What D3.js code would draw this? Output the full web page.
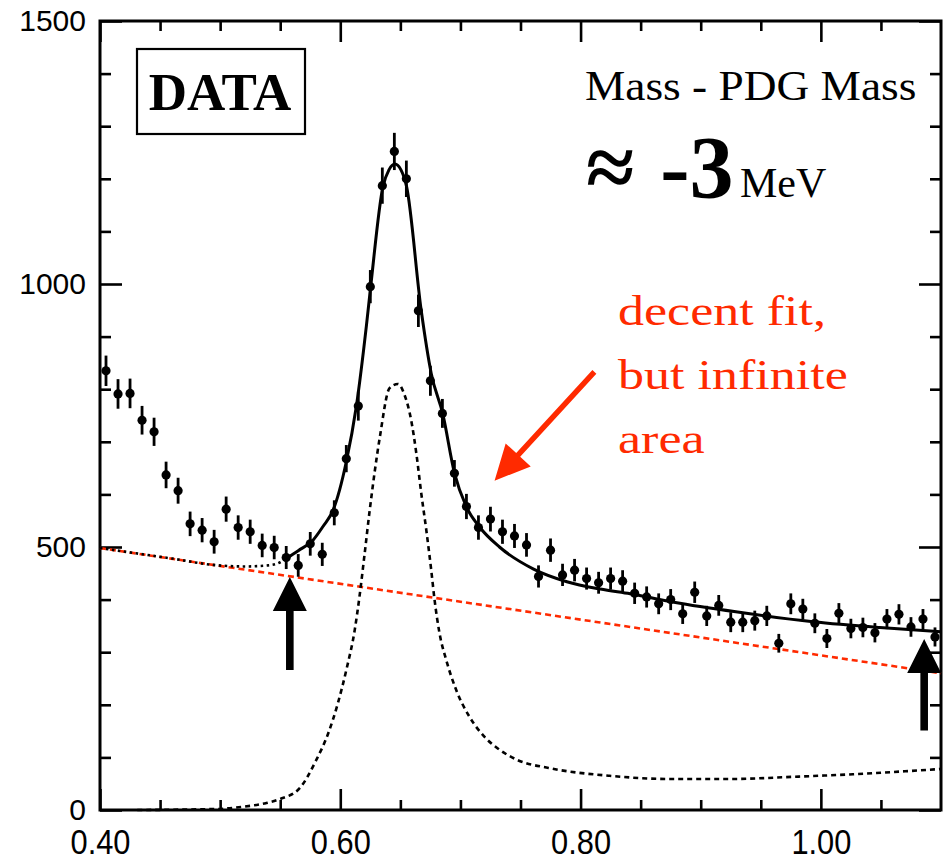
<!DOCTYPE html>
<html>
<head>
<meta charset="utf-8">
<script src="https://cdn.jsdelivr.net/npm/d3@7"></script>
<style>
  body { margin: 0; background: #ffffff; }
</style>
</head>
<body>
<div id="chart"></div>
<script>
// Bin centres of the mass histogram (GeV)
var binCenters = [
  0.405, 0.415, 0.425, 0.435, 0.445, 0.455, 0.465, 0.475, 0.485, 0.495,
  0.505, 0.515, 0.525, 0.535, 0.545, 0.555, 0.565, 0.575, 0.585, 0.595,
  0.605, 0.615, 0.625, 0.635, 0.645, 0.655, 0.665, 0.675, 0.685, 0.695,
  0.705, 0.715, 0.725, 0.735, 0.745, 0.755, 0.765, 0.775, 0.785, 0.795,
  0.805, 0.815, 0.825, 0.835, 0.845, 0.855, 0.865, 0.875, 0.885, 0.895,
  0.905, 0.915, 0.925, 0.935, 0.945, 0.955, 0.965, 0.975, 0.985, 0.995,
  1.005, 1.015, 1.025, 1.035, 1.045, 1.055, 1.065, 1.075, 1.085, 1.095
];

// Entries per bin
var counts = [
  835, 791, 792, 741, 719, 637, 607, 544, 532, 510,
  572, 537, 529, 503, 499, 480, 465, 506, 486, 565,
  668, 768, 995, 1187, 1252, 1200, 949, 816, 754, 640,
  577, 537, 553, 529, 521, 504, 444, 494, 447, 456,
  440, 432, 440, 435, 412, 405, 392, 400, 373, 414,
  369, 389, 357, 357, 360, 369, 317, 392, 382, 355,
  326, 374, 345, 347, 337, 363, 372, 348, 363, 329
];

// Total fit inside the fit range (solid)
var fitX = [0.555, 0.565, 0.5773, 0.5856, 0.594, 0.605, 0.6134, 0.6217, 0.6253, 0.6355,
  0.6405, 0.6455, 0.6505, 0.6552, 0.6674, 0.6757, 0.6854, 0.6951, 0.7048, 0.7159,
  0.7325, 0.7609, 0.7886, 0.8164, 0.8413, 0.8827, 0.938, 0.9936, 1.049, 1.10];
var fitY = [478, 493, 513, 539, 570, 662, 768, 920, 995, 1185,
  1217, 1228, 1217, 1185, 949, 830, 752, 640, 577, 538,
  500, 458, 434, 420, 411, 393, 374, 358, 347, 339];

// Total fit below the fit range (dotted)
var fitLowX = [0.400, 0.430, 0.460, 0.494, 0.520, 0.540, 0.550, 0.555];
var fitLowY = [498, 488, 478, 466, 463, 465, 471, 478];

// Signal shape (black dashed)
var signalX = [0.431, 0.498, 0.518, 0.538, 0.550, 0.566, 0.580, 0.590, 0.598, 0.605,
  0.612, 0.616, 0.620, 0.6245, 0.633, 0.641, 0.648, 0.6535, 0.659, 0.6633,
  0.6674, 0.6716, 0.6757, 0.6785, 0.6826, 0.6882, 0.6965, 0.7076, 0.7201, 0.7311,
  0.7475, 0.7733, 0.824, 0.8747, 0.9254, 0.9761, 1.0268, 1.10];
var signalY = [0, 2, 6, 13, 21, 41, 95, 146, 203, 266,
  342, 406, 482, 570, 710, 802, 810, 789, 741, 678,
  602, 532, 456, 399, 336, 285, 228, 177, 139, 117,
  95, 80, 65, 59, 59, 63, 68, 78];

// Linear background (red dashed)
var bgX = [0.40, 1.10];
var bgY = [498, 260];

// Fit range markers: x, arrow tip and tail (counts)
var rangeX = [0.558, 1.086];
var rangeTip = [443, 325];
var rangeTail = [266, 151];

// Ticks
var xMajor = [0.40, 0.60, 0.80, 1.00];
var xLabels = ["0.40", "0.60", "0.80", "1.00"];
var xMinor = [0.45, 0.50, 0.55, 0.65, 0.70, 0.75, 0.85, 0.90, 0.95, 1.05];
var yMajor = [0, 500, 1000, 1500];
var yLabels = ["0", "500", "1000", "1500"];
var yMinor = [100, 200, 300, 400, 600, 700, 800, 900, 1100, 1200, 1300, 1400];

var width = 950;
var height = 860;
var plotLeft = 100, plotRight = 941, plotTop = 21, plotBottom = 810;
var red = "#ff2a00";
var serif = "'Liberation Serif', 'Times New Roman', serif";
var sans = "'Liberation Sans', Arial, Helvetica, sans-serif";

var svg = d3.select("#chart")
  .append("svg")
  .attr("width", width)
  .attr("height", height);

var x = d3.scaleLinear().domain([0.40, 1.10]).range([plotLeft, plotRight]);
var y = d3.scaleLinear().domain([0, 1500]).range([plotBottom, plotTop]);

// Axes: ticks drawn inward on all four sides
function styleAxis(g) {
  g.select(".domain").remove();
  g.selectAll("line").attr("stroke", "#000").attr("stroke-width", 2.6);
  g.selectAll("text").attr("fill", "#000");
  g.attr("font-family", sans).attr("font-size", 30);
}

var xAxisG = svg.append("g")
  .attr("transform", "translate(0," + plotBottom + ")")
  .call(d3.axisBottom(x).tickValues(xMajor).tickSize(-21)
    .tickFormat(function (d, i) { return xLabels[i]; }))
  .call(styleAxis);
// the x labels are tall and narrow in the original
xAxisG.selectAll("text")
  .attr("y", 0)
  .attr("dy", 0)
  .attr("font-size", 35)
  .attr("transform", "translate(0,44) scale(0.88,1)");

svg.append("g")
  .attr("transform", "translate(0," + plotBottom + ")")
  .call(d3.axisBottom(x).tickValues(xMinor).tickSize(-10).tickFormat(""))
  .call(styleAxis);
svg.append("g")
  .attr("transform", "translate(0," + plotTop + ")")
  .call(d3.axisTop(x).tickValues(xMajor).tickSize(-21).tickFormat(""))
  .call(styleAxis);
svg.append("g")
  .attr("transform", "translate(0," + plotTop + ")")
  .call(d3.axisTop(x).tickValues(xMinor).tickSize(-10).tickFormat(""))
  .call(styleAxis);

svg.append("g")
  .attr("transform", "translate(" + plotLeft + ",0)")
  .call(d3.axisLeft(y).tickValues(yMajor).tickSize(-22).tickPadding(14)
    .tickFormat(function (d, i) { return yLabels[i]; }))
  .call(styleAxis);
svg.append("g")
  .attr("transform", "translate(" + plotLeft + ",0)")
  .call(d3.axisLeft(y).tickValues(yMinor).tickSize(-11).tickFormat(""))
  .call(styleAxis);
svg.append("g")
  .attr("transform", "translate(" + plotRight + ",0)")
  .call(d3.axisRight(y).tickValues(yMajor).tickSize(-22).tickFormat(""))
  .call(styleAxis);
svg.append("g")
  .attr("transform", "translate(" + plotRight + ",0)")
  .call(d3.axisRight(y).tickValues(yMinor).tickSize(-11).tickFormat(""))
  .call(styleAxis);

// Frame
svg.append("rect")
  .attr("x", plotLeft)
  .attr("y", plotTop)
  .attr("width", plotRight - plotLeft)
  .attr("height", plotBottom - plotTop)
  .attr("fill", "none")
  .attr("stroke", "#000")
  .attr("stroke-width", 3);

function zip(xs, ys) {
  return xs.map(function (v, i) { return [v, ys[i]]; });
}

var line = d3.line()
  .x(function (d) { return x(d[0]); })
  .y(function (d) { return y(d[1]); })
  .curve(d3.curveMonotoneX);

// Background (red dashed)
svg.append("path")
  .attr("d", line(zip(bgX, bgY)))
  .attr("fill", "none")
  .attr("stroke", red)
  .attr("stroke-width", 2.6)
  .attr("stroke-dasharray", "6,4");

// Signal (black dashed)
svg.append("path")
  .attr("d", line(zip(signalX, signalY)))
  .attr("fill", "none")
  .attr("stroke", "#000")
  .attr("stroke-width", 2.6)
  .attr("stroke-dasharray", "5,4");

// Total fit outside fit range (dotted)
svg.append("path")
  .attr("d", line(zip(fitLowX, fitLowY)))
  .attr("fill", "none")
  .attr("stroke", "#000")
  .attr("stroke-width", 2.6)
  .attr("stroke-dasharray", "2.5,3.5");

// Total fit (solid)
svg.append("path")
  .attr("d", line(zip(fitX, fitY)))
  .attr("fill", "none")
  .attr("stroke", "#000")
  .attr("stroke-width", 3);

// Data points with Poisson error bars
var points = svg.append("g");
points.selectAll("line")
  .data(binCenters)
  .enter()
  .append("line")
  .attr("x1", function (d) { return x(d); })
  .attr("x2", function (d) { return x(d); })
  .attr("y1", function (d, i) { return y(counts[i] + Math.sqrt(counts[i])); })
  .attr("y2", function (d, i) { return y(counts[i] - Math.sqrt(counts[i])); })
  .attr("stroke", "#000")
  .attr("stroke-width", 2.8);
points.selectAll("circle")
  .data(binCenters)
  .enter()
  .append("circle")
  .attr("cx", function (d) { return x(d); })
  .attr("cy", function (d, i) { return y(counts[i]); })
  .attr("r", 4.6)
  .attr("fill", "#000");

// Filled arrow from (x1,y1) to tip (x2,y2), in pixels
function arrow(x1, y1, x2, y2, headLen, headHalf, shaftHalf, color) {
  var dx = x2 - x1, dy = y2 - y1;
  var len = Math.sqrt(dx * dx + dy * dy);
  var ux = dx / len, uy = dy / len;
  var px = -uy, py = ux;
  var bx = x2 - ux * headLen, by = y2 - uy * headLen;
  var pts = [
    [x1 + px * shaftHalf, y1 + py * shaftHalf],
    [bx + px * shaftHalf, by + py * shaftHalf],
    [bx + px * headHalf, by + py * headHalf],
    [x2, y2],
    [bx - px * headHalf, by - py * headHalf],
    [bx - px * shaftHalf, by - py * shaftHalf],
    [x1 - px * shaftHalf, y1 - py * shaftHalf]
  ];
  svg.append("polygon")
    .attr("points", pts.map(function (p) { return p.join(","); }).join(" "))
    .attr("fill", color);
}

// Fit range arrows
rangeX.forEach(function (v, i) {
  arrow(x(v), y(rangeTail[i]), x(v), y(rangeTip[i]), 34, 17, 3.8, "#000");
});

// Red annotation arrow
arrow(x(0.8115), y(833), x(0.7284), y(626), 35, 17, 2.7, red);

// DATA box
svg.append("rect")
  .attr("x", 137)
  .attr("y", 49)
  .attr("width", 168)
  .attr("height", 85)
  .attr("fill", "#fff")
  .attr("stroke", "#000")
  .attr("stroke-width", 2.2);
svg.append("text")
  .attr("x", 220)
  .attr("y", 110)
  .attr("text-anchor", "middle")
  .style("font-family", serif)
  .style("font-weight", "bold")
  .style("font-size", "53px")
  .text("DATA");

// Mass shift label
svg.append("text")
  .attr("transform", "translate(585,100) scale(1.08,1)")
  .style("font-family", serif)
  .style("font-size", "42px")
  .text("Mass - PDG Mass");
svg.append("text")
  .attr("x", 586)
  .attr("y", 197)
  .style("font-family", serif)
  .style("font-weight", "bold")
  .style("font-size", "88px")
  .text("\u2248")
  .append("tspan")
  .attr("dx", 26)
  .text("-3");
svg.append("text")
  .attr("x", 740)
  .attr("y", 197)
  .style("font-family", serif)
  .style("font-size", "42px")
  .text("MeV");

// Red comment
var note = svg.append("text")
  .attr("transform", "translate(618,325) scale(1.21,1)")
  .style("font-family", serif)
  .style("font-size", "43px")
  .attr("fill", red);
["decent fit,", "but infinite", "area"].forEach(function (s, i) {
  note.append("tspan")
    .attr("x", 0)
    .attr("y", i * 64)
    .text(s);
});
</script>
</body>
</html>
